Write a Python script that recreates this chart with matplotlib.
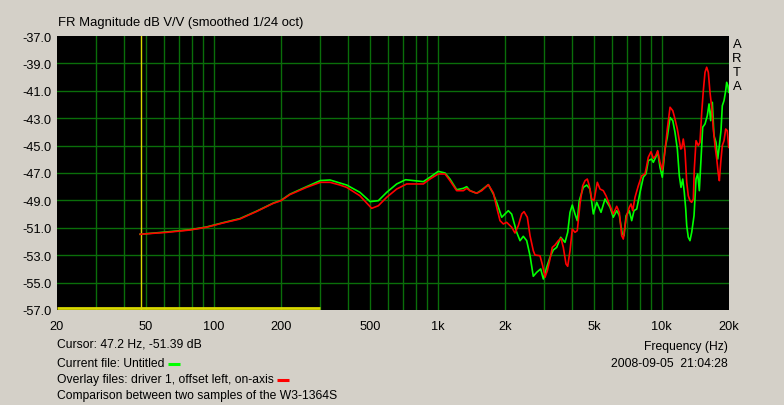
import numpy as np
import matplotlib
matplotlib.use('Agg')
import matplotlib.pyplot as plt
from matplotlib.lines import Line2D

# ----------------------------
# Data
# ----------------------------
# overlay file (red): driver 1, offset left, on-axis
red_freq = [47, 62, 78.5, 93, 110, 131, 156, 185, 200, 219, 260, 300, 331, 367, 393,
            450, 508, 544, 593, 657, 728, 864, 925, 1007, 1080, 1136, 1217, 1303, 1349,
            1395, 1495, 1574, 1685, 1774, 1836, 1900, 1966, 2035, 2142, 2216, 2293, 2375,
            2432, 2516, 2587, 2675, 2722, 2866, 2946, 3018, 3090, 3176, 3252, 3344, 3458,
            3556, 3642, 3744, 3810, 3902, 3994, 4106, 4204, 4324, 4446, 4552, 4660, 4758,
            4876, 4992, 5166, 5312, 5494, 5648, 5886, 6088, 6306, 6478, 6638, 6748, 6868,
            6988, 7178, 7304, 7434, 7612, 7874, 8154, 8434, 8582, 8724, 8970, 9186, 9416,
            9610, 9840, 10076, 10360, 10608, 10828, 10910, 11220, 11480, 11760, 12000,
            12180, 12300, 12500, 12720, 12950, 13160, 13390, 13630, 13860, 14000, 14250,
            14590, 14840, 15110, 15360, 15630, 15900, 16170, 16450, 16740, 17020, 17320,
            17630, 17920, 18110, 18370, 18670, 19000, 19330, 19650, 19940]
red_db = [-51.47, -51.33, -51.16, -50.96, -50.65, -50.36, -49.80, -49.21, -49.02, -48.58,
          -48.05, -47.68, -47.68, -47.88, -48.05, -48.66, -49.58, -49.39, -48.77, -48.17,
          -47.80, -47.80, -47.44, -47.07, -47.07, -47.56, -48.29, -48.29, -48.12, -48.29,
          -48.48, -48.29, -47.85, -48.45, -49.50, -50.48, -50.72, -50.60, -50.96, -51.38,
          -50.85, -49.99, -49.82, -50.23, -51.58, -52.67, -52.99, -53.04, -53.77, -54.61,
          -54.13, -53.28, -52.43, -52.26, -51.94, -51.77, -52.43, -53.64, -53.81, -52.67,
          -51.09, -51.33, -51.21, -49.26, -47.93, -47.56, -47.44, -47.93, -48.90, -49.02,
          -47.68, -48.17, -48.29, -48.66, -49.39, -49.99, -49.43, -49.87, -51.58, -51.82,
          -50.85, -50.12, -49.50, -49.26, -49.75, -48.77, -47.93, -47.20, -47.07, -46.47,
          -45.85, -45.45, -45.93, -45.74, -45.37, -46.22, -46.78, -45.37, -43.79, -42.60,
          -42.20, -42.45, -43.06, -43.79, -44.64, -45.25, -45.20, -44.52, -45.37, -47.68,
          -48.66, -49.02, -49.14, -48.90, -46.71, -44.64, -45.00, -44.76, -42.57, -40.99,
          -39.65, -39.28, -39.65, -41.11, -42.20, -43.79, -45.00, -45.98, -47.07, -47.56,
          -46.22, -45.00, -44.64, -43.79, -43.91, -45.13]

# current file (green): Untitled
green_freq = [47, 62, 78.5, 93, 110, 131, 156, 185, 200, 219, 260, 300, 331, 393, 450,
              500, 544, 593, 657, 720, 864, 925, 1007, 1080, 1136, 1217, 1303, 1349, 1395,
              1495, 1574, 1685, 1774, 1836, 1934, 2069, 2142, 2256, 2334, 2414, 2500, 2587,
              2675, 2770, 2886, 2966, 3070, 3176, 3286, 3402, 3546, 3706, 3810, 3902, 3994,
              4106, 4204, 4292, 4474, 4632, 4792, 4958, 5134, 5366, 5590, 5886, 6088, 6306,
              6478, 6678, 6798, 6940, 7178, 7356, 7534, 7746, 8012, 8288, 8520, 8724, 9034,
              9186, 9416, 9610, 9840, 10076, 10360, 10608, 10910, 11220, 11480, 11760,
              12000, 12210, 12430, 12630, 12820, 12950, 13160, 13390, 13630, 13960, 14250,
              14500, 14740, 15000, 15260, 15630, 16000, 16290, 16570, 16850, 17140, 17500,
              17810, 18110, 18420, 18670, 19000, 19330, 19530, 19790, 19940]
green_db = [-51.47, -51.30, -51.14, -50.94, -50.63, -50.33, -49.78, -49.19, -49.00, -48.55,
            -48.00, -47.55, -47.51, -47.88, -48.41, -49.09, -49.02, -48.41, -47.80, -47.49,
            -47.63, -47.31, -46.88, -47.00, -47.44, -48.22, -48.12, -48.00, -48.29, -48.48,
            -48.24, -47.85, -48.53, -49.14, -50.23, -49.75, -50.00, -51.33, -51.94, -51.62,
            -51.94, -53.04, -54.54, -54.25, -54.00, -54.74, -53.88, -53.15, -52.62, -52.43,
            -51.69, -52.06, -51.33, -49.87, -49.34, -49.99, -50.48, -49.02, -48.05, -47.88,
            -48.17, -49.99, -49.14, -49.87, -48.90, -49.50, -50.23, -49.75, -50.12, -51.45,
            -51.58, -50.12, -49.75, -50.48, -49.75, -49.63, -48.41, -47.31, -47.07, -46.10,
            -45.98, -46.22, -45.85, -45.45, -46.59, -47.31, -45.25, -44.39, -42.95, -43.18,
            -44.03, -45.25, -47.20, -48.05, -47.44, -48.41, -49.63, -50.85, -51.69, -51.94,
            -51.33, -50.12, -47.44, -47.07, -48.29, -45.98, -43.66, -43.42, -42.82, -41.96,
            -43.18, -41.84, -44.27, -44.76, -45.98, -45.00, -43.91, -42.09, -41.72, -40.99,
            -40.38, -40.63, -41.11]

x_ticks = [20, 50, 100, 200, 500, 1000, 2000, 5000, 10000, 20000]
x_tick_labels = ['20', '50', '100', '200', '500', '1k', '2k', '5k', '10k', '20k']
y_ticks = [-37, -39, -41, -43, -45, -47, -49, -51, -53, -55, -57]

cursor_freq = 47.2
marker_range = [20, 300]   # yellow bar along the bottom

# ----------------------------
# Figure
# ----------------------------
W, H = 784, 406
bg = '#d4d0c8'
grid_col = '#0a6e0a'
fs = 9.0
plt.rcParams['font.family'] = ['Liberation Sans', 'DejaVu Sans']
plt.rcParams['font.size'] = fs

fig = plt.figure(figsize=(W / 100, H / 100), dpi=100, facecolor=bg)

def px(x, y):
    return x / W, 1 - y / H

l, t = px(57, 37)
r, b = px(729, 311)
ax = fig.add_axes([l, b, r - l, t - b], facecolor='black')
ax.set_xscale('log')
ax.set_xlim(20, 20000)
ax.set_ylim(-57, -37)

# grid: minor decades + dB lines
vgrid = [f * d for d in (10, 100, 1000) for f in range(2, 10)] + [100, 1000, 10000]
vgrid = [v for v in vgrid if 20 < v < 20000]
for v in vgrid:
    ax.axvline(v, color=grid_col, lw=1.0, zorder=1)
for yv in y_ticks[1:-1]:
    ax.axhline(yv, color=grid_col, lw=1.0, zorder=1)

ax.plot(marker_range, [-56.85, -56.85], color='#d8d800', lw=2.0, zorder=2,
        solid_capstyle='butt')
ax.axvline(cursor_freq, color='#d8d800', lw=1.0, zorder=2)

ax.plot(green_freq, green_db, color='#00ff00', lw=1.2, zorder=3)
ax.plot(red_freq, red_db, color='#ff0000', lw=1.2, zorder=4)

ax.set_xticks(x_ticks)
ax.set_xticklabels(x_tick_labels)
ax.xaxis.set_minor_locator(matplotlib.ticker.NullLocator())
ax.set_yticks(y_ticks)
ax.set_yticklabels(['%.1f' % v for v in y_ticks])
ax.tick_params(length=0, colors='black', labelsize=9.2)
ax.tick_params(axis='x', pad=7)
ax.tick_params(axis='y', pad=4)
for s in ax.spines.values():
    s.set_visible(False)

# ----------------------------
# Texts around the plot
# ----------------------------
def txt(x, y, s, ha='left', size=8.7):
    return fig.text(*px(x, y), s, ha=ha, va='center', fontsize=size, color='black')

txt(58, 23, 'FR Magnitude dB V/V (smoothed 1/24 oct)', size=9.4)
txt(57, 345, 'Cursor: 47.2 Hz, -51.39 dB')
cur = txt(57, 364, 'Current file: Untitled')
ovl = txt(57, 380, 'Overlay files: driver 1, offset left, on-axis')
txt(57, 396, 'Comparison between two samples of the W3-1364S')
txt(728, 347, 'Frequency (Hz)', ha='right')
txt(728, 364, '2008-09-05  21:04:28', ha='right')
for i, ch in enumerate('ARTA'):
    txt(737, 45 + 14 * i, ch, ha='center', size=9.4)

# little colour keys placed right after the file names
fig.canvas.draw()
rend = fig.canvas.get_renderer()
for t_obj, y, c in [(cur, 365, '#00ff00'), (ovl, 380.5, '#ff0000')]:
    x0 = t_obj.get_window_extent(rend).x1 + 3
    fig.add_artist(Line2D([x0 / W, (x0 + 12) / W], [1 - y / H] * 2, color=c, lw=2.2,
                          transform=fig.transFigure, solid_capstyle='butt'))

fig.savefig('out.png', dpi=100, facecolor=bg)
